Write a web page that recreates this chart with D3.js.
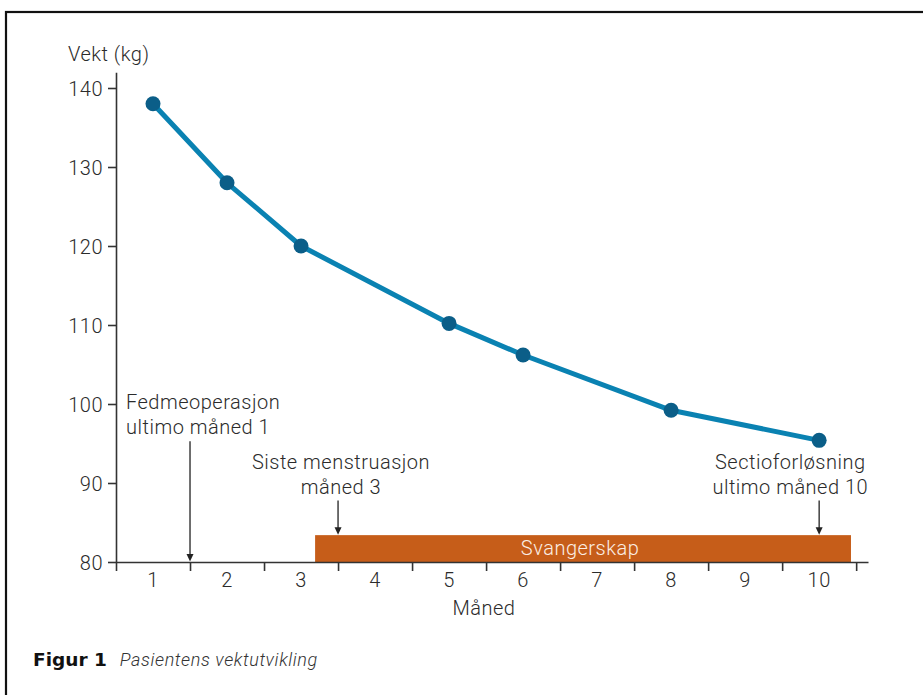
<!DOCTYPE html>
<html>
<head>
<meta charset="utf-8">
<script src="https://cdn.jsdelivr.net/npm/d3@7"></script>
<style>
  body { margin: 0; background: white; }
  text { font-family: Roboto, "Liberation Sans", sans-serif; }
  .lt { font-size: 20px; font-weight: 300; letter-spacing: 0.5px; }
</style>
</head>
<body>
<div id="container"></div>
<script>
// months where the weight was measured, and the weights (kg)
let months = [1, 2, 3, 5, 6, 8, 10];
let weights = [138, 128, 120, 110.2, 106.2, 99.2, 95.4];

let monthLabels = ["1", "2", "3", "4", "5", "6", "7", "8", "9", "10"];
let yTicks = [80, 90, 100, 110, 120, 130, 140];

// pregnancy period (in months along the axis, 0 = start of month 1)
let pregnancyStart = 2.69;
let pregnancyEnd = 9.93;
let pregnancyTop = 83.4;
let pregnancyLabel = "Svangerskap";

// annotations: text lines, arrow position and arrow extent (kg)
let noteLines = [
  ["Fedmeoperasjon", "ultimo måned 1"],
  ["Siste menstruasjon", "måned 3"],
  ["Sectioforløsning", "ultimo måned 10"]
];
let noteTextX = [0.135, 3.04, 9.11];
let noteTextY = [99.4, 91.8, 91.8];
let noteAnchor = ["start", "middle", "middle"];
let arrowX = [1.0, 3.0, 9.5];
let arrowTop = [95.3, 87.8, 87.8];
let arrowBottom = [80, 83.4, 83.4];

let w = 923;
let h = 695;

let viz = d3.select("#container")
  .append("svg")
    .attr("width", w)
    .attr("height", h)
    .style("background-color", "white")
;

// frame
viz.append("rect")
  .attr("x", 6)
  .attr("y", 12)
  .attr("width", w + 20)
  .attr("height", h + 20)
  .attr("fill", "none")
  .attr("stroke", "#111")
  .attr("stroke-width", 2.2)
;

let xScale = d3.scaleLinear().domain([0, 10.16]).range([116, 868]);
let yScale = d3.scaleLinear().domain([80, 142]).range([562, 72.2]);

let textColor = "#2b2b2b";

// pregnancy bar
viz.append("rect")
  .attr("x", xScale(pregnancyStart))
  .attr("y", yScale(pregnancyTop))
  .attr("width", xScale(pregnancyEnd) - xScale(pregnancyStart))
  .attr("height", yScale(80) - yScale(pregnancyTop))
  .attr("fill", "#c65d19")
;
viz.append("text")
  .text(pregnancyLabel)
  .classed("lt", true)
  .attr("x", xScale(6.27))
  .attr("y", yScale(80) - 7)
  .attr("text-anchor", "middle")
  .attr("fill", "#fbeee4")
;

// axes
let xAxis = d3.axisBottom(xScale)
  .tickValues(d3.range(0, 11))
  .tickFormat("")
  .tickSize(9)
  .tickSizeOuter(0);

let xg = viz.append("g")
  .attr("transform", "translate(0," + yScale(80) + ")")
  .call(xAxis);

let yAxis = d3.axisLeft(yScale)
  .tickValues(yTicks)
  .tickSize(8)
  .tickSizeOuter(0)
  .tickPadding(5);

let yg = viz.append("g")
  .attr("transform", "translate(" + xScale(0) + ",0)")
  .call(yAxis);

[xg, yg].forEach(function(g){
  g.selectAll("path, line").attr("stroke", "#333").attr("stroke-width", 1.6);
});
yg.selectAll("text")
  .classed("lt", true)
  .attr("font-size", null)
  .attr("font-family", null)
  .attr("fill", textColor)
  .attr("dy", "0.36em")
;
yg.attr("font-size", null).attr("font-family", null);

viz.selectAll(".mlabel").data(monthLabels).enter()
  .append("text")
    .attr("class", "mlabel lt")
    .text(function(d){ return d; })
    .attr("x", function(d, i){ return xScale(i + 0.5); })
    .attr("y", 587)
    .attr("text-anchor", "middle")
    .attr("fill", textColor)
;

viz.append("text")
  .text("Måned")
  .classed("lt", true)
  .attr("x", 484)
  .attr("y", 615)
  .attr("text-anchor", "middle")
  .attr("fill", textColor)
;

viz.append("text")
  .text("Vekt (kg)")
  .classed("lt", true)
  .attr("x", 68)
  .attr("y", 61)
  .attr("fill", textColor)
;

// annotations
noteLines.forEach(function(lines, k){
  viz.append("text")
    .classed("lt", true)
    .attr("x", xScale(noteTextX[k]))
    .attr("y", yScale(noteTextY[k]))
    .attr("text-anchor", noteAnchor[k])
    .attr("fill", textColor)
    .selectAll("tspan").data(lines).enter()
    .append("tspan")
      .attr("x", xScale(noteTextX[k]))
      .attr("dy", function(d, i){ return i == 0 ? 0 : 25; })
      .text(function(d){ return d; })
  ;

  let ax = xScale(arrowX[k]);
  let y0 = yScale(arrowTop[k]);
  let y1 = yScale(arrowBottom[k]);
  viz.append("line")
    .attr("x1", ax).attr("x2", ax)
    .attr("y1", y0).attr("y2", y1 - 6)
    .attr("stroke", "#222")
    .attr("stroke-width", 1.3)
  ;
  viz.append("path")
    .attr("d", "M" + (ax - 3.5) + "," + (y1 - 8) + "L" + (ax + 3.5) + "," + (y1 - 8) + "L" + ax + "," + (y1 - 0.5) + "Z")
    .attr("fill", "#222")
  ;
});

// weight line
let points = months.map(function(m, i){ return [m, weights[i]]; });

let line = d3.line()
  .x(function(d){ return xScale(d[0] - 0.5); })
  .y(function(d){ return yScale(d[1]); });

viz.append("path")
  .datum(points)
  .attr("d", line)
  .attr("fill", "none")
  .attr("stroke", "#0a82b2")
  .attr("stroke-width", 5)
  .attr("stroke-linejoin", "round")
;

viz.selectAll(".dot").data(points).enter()
  .append("circle")
    .classed("dot", true)
    .attr("cx", function(d){ return xScale(d[0] - 0.5); })
    .attr("cy", function(d){ return yScale(d[1]); })
    .attr("r", 7.5)
    .attr("fill", "#0b5e88")
;

// caption
let caption = viz.append("text")
  .attr("x", 33)
  .attr("y", 666)
  .attr("fill", "#111");
caption.append("tspan")
  .text("Figur 1")
  .attr("font-family", "DejaVu Sans")
  .attr("font-size", 18.5)
  .attr("font-weight", 700);
caption.append("tspan")
  .text("Pasientens vektutvikling")
  .attr("dx", 13)
  .attr("font-size", 18)
  .attr("font-weight", 300)
  .attr("font-style", "italic")
  .attr("letter-spacing", 0.6)
  .attr("fill", "#333");
</script>
</body>
</html>
